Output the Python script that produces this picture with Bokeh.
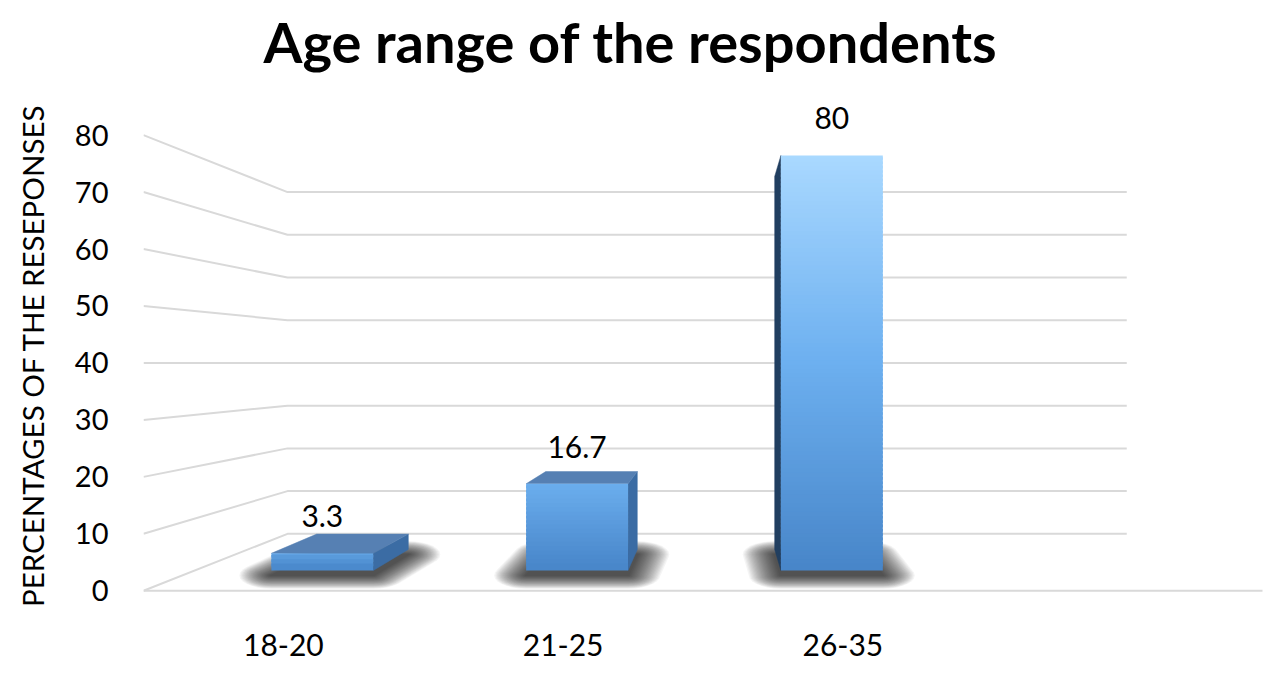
import numpy as np
from bokeh.plotting import figure
from bokeh.models import Range1d, FixedTicker
from bokeh.embed import file_html
from bokeh.resources import INLINE
from bokeh.core.properties import value

# ---------------- data ----------------
categories = ["18-20", "21-25", "26-35"]
percentages = [3.3, 16.7, 80]
y_ticks = [0, 10, 20, 30, 40, 50, 60, 70, 80]
title_text = "Age range of the respondents"
y_label = "PERCENTAGES OF THE RESEPONSES"

# ---------------- layout constants (figure pixels) ----------------
FIG_W, FIG_H = 1271, 672
FRAME_L, FRAME_R = 143, 1271
FRAME_T, FRAME_B = 75, 631
FLOOR_R = 1262          # right end of the front floor edge
N_SLOTS = 4             # category slots along the floor (last one empty)
Y0_PAGE = 590           # y of value 0 on the front edge
PX_PER_UNIT = 5.7375    # px per value unit on the front edge
VP_X, VP_V = 719, 40    # vanishing point (x in px, y in value units)
S_BACK = 0.75           # perspective scale of back wall
S_BAR_F, S_BAR_B = 0.9107, 0.8186   # bar front / back depth scales
BAR_FRAC = 0.4
FONT = "Lato"
GRID_COLOR = "#d9d9d9"


def v_of_page(y):
    return (Y0_PAGE - y) / PX_PER_UNIT


def proj(x, v, s):
    return VP_X + (x - VP_X) * s, VP_V + (v - VP_V) * s


def hex2rgb(h):
    h = h.lstrip("#")
    return np.array([int(h[i:i + 2], 16) for i in (0, 2, 4)], dtype=float)


def rgb2hex(c):
    c = np.clip(np.round(c), 0, 255).astype(int)
    return "#%02x%02x%02x" % tuple(c)


GRAD_POS = [0.0, 0.5, 1.0]
GRAD_COL = [hex2rgb("#4886c9"), hex2rgb("#6db0f0"), hex2rgb("#aad9ff")]


def grad(u):
    c = [np.interp(u, GRAD_POS, [g[i] for g in GRAD_COL]) for i in range(3)]
    return rgb2hex(np.array(c))


def hull(points):
    pts = sorted(set(points))
    if len(pts) <= 2:
        return pts

    def cross(o, a, b):
        return (a[0] - o[0]) * (b[1] - o[1]) - (a[1] - o[1]) * (b[0] - o[0])
    lower, upper = [], []
    for q in pts:
        while len(lower) >= 2 and cross(lower[-2], lower[-1], q) <= 0:
            lower.pop()
        lower.append(q)
    for q in reversed(pts):
        while len(upper) >= 2 and cross(upper[-2], upper[-1], q) <= 0:
            upper.pop()
        upper.append(q)
    return lower[:-1] + upper[:-1]


p = figure(width=FIG_W, height=FIG_H,
           x_range=Range1d(FRAME_L, FRAME_R),
           y_range=Range1d(v_of_page(FRAME_B), v_of_page(FRAME_T)),
           output_backend="svg", toolbar_location=None,
           min_border_left=FRAME_L, min_border_right=FIG_W - FRAME_R,
           min_border_top=FRAME_T, min_border_bottom=FIG_H - FRAME_B)
p.outline_line_color = None
p.grid.visible = False
p.background_fill_color = "white"
p.border_fill_color = "white"

# title
p.title.text = title_text
p.title.text_font = FONT
p.title.text_font_style = "bold"
p.title.text_font_size = "56px"
p.title.text_color = "black"
p.title.align = "left"
p.title.offset = 120

# ---------------- walls / gridlines ----------------
xs, ys = [], []
for t in y_ticks:
    a = proj(FRAME_L, t, 1.0)
    b = proj(FRAME_L, t, S_BACK)
    c = proj(FLOOR_R, t, S_BACK)
    xs.append([a[0], b[0], c[0]])
    ys.append([a[1], b[1], c[1]])
a = proj(FRAME_L, y_ticks[0], 1.0)
b = proj(FLOOR_R, y_ticks[0], 1.0)
xs.append([a[0], b[0]])
ys.append([a[1], b[1]])
p.multi_line(xs, ys, line_color=GRID_COLOR, line_width=2)

slot_w = (FLOOR_R - FRAME_L) / N_SLOTS
centers = [FRAME_L + slot_w * (i + 0.5) for i in range(len(categories))]
half = slot_w * BAR_FRAC / 2

# ---------------- soft shadows on the floor ----------------
N_SH = 24
R_MAX = 32.0
SHIFT_DOWN = 5.0
angles = np.linspace(0, 2 * np.pi, 28, endpoint=False)
sh_xs, sh_ys = [], []
for c in centers:
    xl, xr = c - half, c + half
    foot = [proj(xl, 0, S_BAR_B), proj(xr, 0, S_BAR_B),
            proj(xr, 0, S_BAR_F), proj(xl, 0, S_BAR_F)]
    foot_px = [(fx, Y0_PAGE - fv * PX_PER_UNIT + SHIFT_DOWN) for fx, fv in foot]
    for k in range(N_SH):
        r = R_MAX * (1 - k / N_SH)
        ry = r * 0.42
        pts = []
        for fx, fy in foot_px:
            for a_ in angles:
                pts.append((fx + r * np.cos(a_), fy + ry * np.sin(a_)))
        hp = hull(pts)
        sh_xs.append([q[0] for q in hp])
        sh_ys.append([v_of_page(q[1]) for q in hp])
p.patches(sh_xs, sh_ys, fill_color="black", fill_alpha=0.045, line_color=None)

# ---------------- bars ----------------
ymax = y_ticks[-1]
for c, h in zip(centers, percentages):
    xl, xr = c - half, c + half
    # side face
    if xr < VP_X:
        xs_side = xr
        side_col = "#3b6ca4"
    else:
        xs_side = xl
        side_col = "#213f60"
    pts = [proj(xs_side, 0, S_BAR_F), proj(xs_side, h, S_BAR_F),
           proj(xs_side, h, S_BAR_B), proj(xs_side, 0, S_BAR_B)]
    p.patch([q[0] for q in pts], [q[1] for q in pts], fill_color=side_col,
            line_color=side_col, line_width=0.5)
    # top face
    if h < VP_V:
        pts = [proj(xl, h, S_BAR_F), proj(xr, h, S_BAR_F),
               proj(xr, h, S_BAR_B), proj(xl, h, S_BAR_B)]
        p.patch([q[0] for q in pts], [q[1] for q in pts], fill_color="#5680b3",
                line_color="#5680b3", line_width=0.5)
    # front face with vertical gradient (overlapping strips, drawn top-down)
    n = max(4, int(h * 1.2))
    edges = np.linspace(0, h, n + 1)
    step = edges[1] - edges[0]
    u_top = 0.35 + 0.65 * h / ymax
    left = proj(xl, 0, S_BAR_F)[0]
    right = proj(xr, 0, S_BAR_F)[0]
    bots = [proj(xl, e0, S_BAR_F)[1] for e0 in edges[:-1]]
    tops = [proj(xl, min(h, e1 + step * 0.6), S_BAR_F)[1] for e1 in edges[1:]]
    cols = [grad(u_top * ((i + 0.5) / n)) for i in range(n)]
    p.quad(left=left, right=right, bottom=bots[::-1], top=tops[::-1],
           fill_color=cols[::-1], line_color=None)

# ---------------- data labels ----------------
lx = [proj(c, 0, S_BAR_F)[0] for c in centers]
ly = [proj(c, h, S_BAR_F)[1] for c, h in zip(centers, percentages)]
p.text(x=lx, y=ly, text=[f"{h:g}" for h in percentages], y_offset=-37,
       text_align="center", text_baseline="middle",
       text_font=value(FONT), text_font_size="30px", text_color="black")

# ---------------- axes ----------------
for ax in (p.xaxis[0], p.yaxis[0]):
    ax.axis_line_color = None
    ax.major_tick_line_color = None
    ax.minor_tick_line_color = None
    ax.major_tick_out = 0
    ax.major_tick_in = 0
    ax.major_label_text_font = FONT
    ax.major_label_text_color = "black"

p.yaxis.ticker = FixedTicker(ticks=y_ticks)
p.yaxis.major_label_text_font_size = "29px"
p.yaxis.major_label_standoff = 35
p.yaxis.axis_label = y_label
p.yaxis.axis_label_text_font = FONT
p.yaxis.axis_label_text_font_size = "29.5px"
p.yaxis.axis_label_text_font_style = "normal"
p.yaxis.axis_label_text_color = "black"
p.yaxis.axis_label_standoff = 22

p.xaxis.ticker = FixedTicker(ticks=centers)
p.xaxis.major_label_overrides = {c: lab for c, lab in zip(centers, categories)}
p.xaxis.major_label_text_font_size = "30px"
p.xaxis.major_label_standoff = 2

open("out.html", "w").write(file_html(p, INLINE))
